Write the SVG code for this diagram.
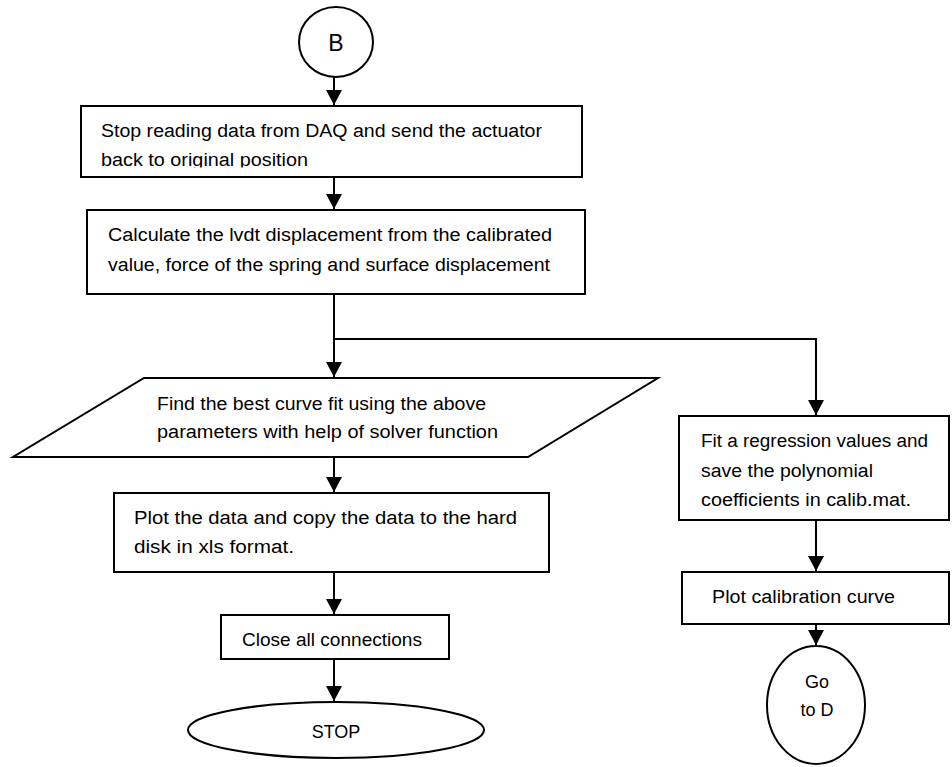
<svg xmlns="http://www.w3.org/2000/svg" width="952" height="767" viewBox="0 0 952 767">
<style>
.s{fill:#fff;stroke:#000;stroke-width:2}
.t{font-family:"Liberation Sans",Arial,sans-serif;font-size:18px;fill:#000}
.c{stroke:#000;stroke-width:2;fill:none}
</style>
<defs>
<marker id="ah" markerUnits="userSpaceOnUse" markerWidth="16" markerHeight="16" viewBox="0 0 16 16" refX="15" refY="8" orient="auto">
<path d="M0,0 L15,8 L0,16 Z" fill="#000"/>
</marker>
<clipPath id="clip1"><rect x="82" y="107" width="499" height="60.5"/></clipPath>
</defs>
<rect width="952" height="767" fill="#fff"/>
<g id="connectors">
<line class="c" x1="334" y1="77" x2="334" y2="105" marker-end="url(#ah)"/>
<line class="c" x1="334" y1="177" x2="334" y2="209" marker-end="url(#ah)"/>
<polyline class="c" points="334,294 334,339 334,377" marker-end="url(#ah)"/>
<polyline class="c" points="334,339 816,339 816,415" marker-end="url(#ah)"/>
<line class="c" x1="334" y1="457" x2="334" y2="492" marker-end="url(#ah)"/>
<line class="c" x1="334" y1="572" x2="334" y2="614" marker-end="url(#ah)"/>
<line class="c" x1="334" y1="659" x2="334" y2="701" marker-end="url(#ah)"/>
<line class="c" x1="816" y1="520" x2="816" y2="571" marker-end="url(#ah)"/>
<line class="c" x1="816" y1="624" x2="816" y2="645" marker-end="url(#ah)"/>
</g>
<g id="node-b">
<ellipse class="s" cx="336" cy="42" rx="37" ry="35"/>
<text class="t" x="336" y="51" text-anchor="middle" style="font-size:23px">B</text>
</g>
<g id="node-stop-reading">
<rect class="s" x="81" y="106" width="501" height="71"/>
<g clip-path="url(#clip1)">
<text class="t" x="101" y="137" textLength="441" lengthAdjust="spacingAndGlyphs">Stop reading data from DAQ and send the actuator</text>
<text class="t" x="101" y="166" textLength="207" lengthAdjust="spacingAndGlyphs">back to original position</text>
</g>
</g>
<g id="node-calculate">
<rect class="s" x="87" y="210" width="498" height="84"/>
<text class="t" x="108" y="241" textLength="444" lengthAdjust="spacingAndGlyphs">Calculate the lvdt displacement from the calibrated</text>
<text class="t" x="108" y="271" textLength="442" lengthAdjust="spacingAndGlyphs">value, force of the spring and surface displacement</text>
</g>
<g id="node-curve-fit">
<polygon class="s" points="144,378 658,378 528,457 13,457"/>
<text class="t" x="157" y="410" textLength="329" lengthAdjust="spacingAndGlyphs">Find the best curve fit using the above</text>
<text class="t" x="157" y="438" textLength="341" lengthAdjust="spacingAndGlyphs">parameters with help of solver function</text>
</g>
<g id="node-plot-data">
<rect class="s" x="114" y="493" width="435" height="79"/>
<text class="t" x="134" y="524" textLength="383" lengthAdjust="spacingAndGlyphs">Plot the data and copy the data to the hard</text>
<text class="t" x="134" y="553" textLength="160" lengthAdjust="spacingAndGlyphs">disk in xls format.</text>
</g>
<g id="node-close">
<rect class="s" x="221" y="615" width="228" height="44"/>
<text class="t" x="242" y="646" textLength="180" lengthAdjust="spacingAndGlyphs">Close all connections</text>
</g>
<g id="node-stop">
<ellipse class="s" cx="336" cy="730" rx="148" ry="28"/>
<text class="t" x="336" y="738" text-anchor="middle">STOP</text>
</g>
<g id="node-regression">
<rect class="s" x="679" y="416" width="270" height="104"/>
<text class="t" x="701" y="447" textLength="227" lengthAdjust="spacingAndGlyphs">Fit a regression values and</text>
<text class="t" x="701" y="477" textLength="172" lengthAdjust="spacingAndGlyphs">save the polynomial</text>
<text class="t" x="701" y="506" textLength="210" lengthAdjust="spacingAndGlyphs">coefficients in calib.mat.</text>
</g>
<g id="node-plot-calib">
<rect class="s" x="682" y="572" width="267" height="52"/>
<text class="t" x="712" y="603" textLength="183" lengthAdjust="spacingAndGlyphs">Plot calibration curve</text>
</g>
<g id="node-goto-d">
<ellipse class="s" cx="816" cy="705" rx="49" ry="59"/>
<text class="t" x="817" y="688" text-anchor="middle">Go</text>
<text class="t" x="817" y="716" text-anchor="middle">to D</text>
</g>
</svg>
